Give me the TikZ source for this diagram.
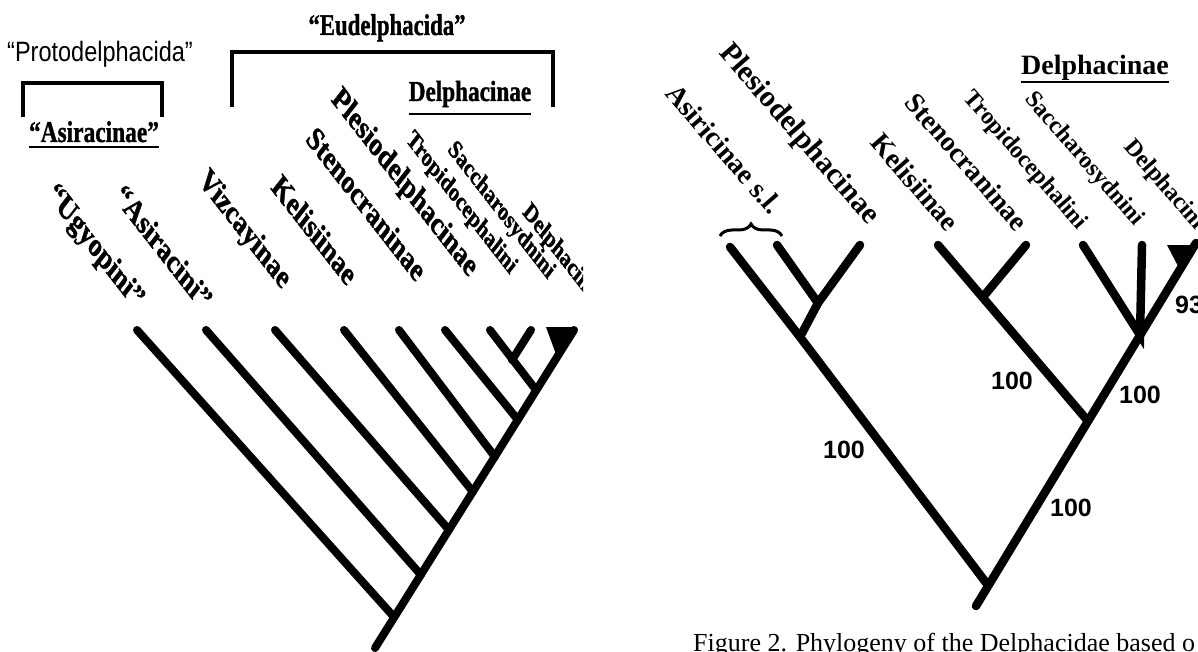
\documentclass[tikz,border=0pt]{standalone}
\usepackage{fontspec}
\setmainfont{Liberation Serif}
\newfontfamily\arialfont{Liberation Sans}
\newfontfamily\heavyfont[FakeBold=1.3]{Liberation Serif Bold}
\usetikzlibrary{decorations.pathreplacing}

\tikzset{
    twig/.style={line width=8pt, line cap=round},
    bracket/.style={line width=3.5pt},
    uline/.style={line width=2.8pt},
    ltaxon/.style={anchor=base east, inner sep=0pt, xscale=0.78, rotate=-45,
        font=\heavyfont\fontsize{33}{33}\selectfont},
    ltaxonsm/.style={ltaxon, font=\heavyfont\fontsize{26}{26}\selectfont},
    rtaxon/.style={anchor=base east, inner sep=0pt, rotate=-49,
        font=\bfseries\fontsize{28}{28}\selectfont},
    rtaxonsm/.style={rtaxon, font=\bfseries\fontsize{24}{24}\selectfont},
    boot/.style={inner sep=0pt, font=\arialfont\bfseries\fontsize{25}{25}\selectfont}
}

\begin{document}
\begin{tikzpicture}[x=1pt, y=-1pt]
    \useasboundingbox (0,0) rectangle (1198,652);
    \clip (0,0) rectangle (1198,652);

    % left: headings
    \node (proto) at (100,62) [anchor=base, inner sep=0pt, xscale=0.84,
        font=\arialfont\fontsize{28}{28}\selectfont] {“Protodelphacida”};
    \draw [bracket] (23,117) -- (23,83) -- (162,83) -- (162,117);
    \node (asir) at (94,142) [anchor=base, inner sep=0pt, xscale=0.78,
        font=\heavyfont\fontsize{30}{30}\selectfont] {“Asiracinae”};
    \draw [uline] ([yshift=-5pt]asir.base west) -- ([yshift=-5pt]asir.base east);
    \node (eudel) at (387,35) [anchor=base, inner sep=0pt, xscale=0.76,
        font=\heavyfont\fontsize{30}{30}\selectfont] {“Eudelphacida”};
    \draw [bracket] (232,107) -- (232,52) -- (553,52) -- (553,107);
    \node (dplL) at (470,101) [anchor=base, inner sep=0pt, xscale=0.8,
        font=\heavyfont\fontsize{29}{29}\selectfont] {Delphacinae};
    \draw [uline] ([yshift=-13pt]dplL.base west) -- ([yshift=-13pt]dplL.base east);

    % left: tree
    \begin{scope}
        \clip (0,0) rectangle (583,652);
        \coordinate (ugy) at (137,330);
        \coordinate (asi) at (206,330);
        \coordinate (viz) at (275,330);
        \coordinate (kel) at (344,330);
        \coordinate (ste) at (399,330);
        \coordinate (ple) at (445,330);
        \coordinate (tro) at (490,330);
        \coordinate (sac) at (531,330);
        \coordinate (del) at (574,330);
        \coordinate (rootL) at (375,648);
        \coordinate (n1) at (394,617);
        \coordinate (n2) at (421,575);
        \coordinate (n3) at (449,530);
        \coordinate (n4) at (473,492);
        \coordinate (n5) at (495,457);
        \coordinate (n6) at (518,420);
        \coordinate (n7) at (536,390);
        \coordinate (n8) at (512,360);
        \fill (546,327) -- (576,327) -- (557,357) -- cycle;
        \draw [twig] (del) -- (rootL);
        \foreach \a/\b in {ugy/n1, asi/n2, viz/n3, kel/n4, ste/n5, ple/n6, tro/n7, sac/n8}
            \draw [twig] (\a) -- (\b);

        \node [ltaxon] (lugy) at (135,310) {“Ugyopini”};
        \node [ltaxon] (lasi) at (202,312) {“Asiracini”};
        \node [ltaxon] (lviz) at (282,290) {Vizcayinae};
        \node [ltaxon] (lkel) at (347,287) {Kelisiinae};
        \node [ltaxon] (lste) at (416,283) {Stenocraninae};
        \node [ltaxon] (lple) at (469,278) {Plesiodelphacinae};
        \node [ltaxonsm] (ltro) at (510,275) {Tropidocephalini};
        \node [ltaxonsm] (lsac) at (548,280) {Saccharosydnini};
        \node [ltaxonsm] (ldel) at (588,298) {Delphacini};
    \end{scope}

    % right: tree
    \coordinate (asA) at (730,247);
    \coordinate (asB) at (777,245);
    \coordinate (pl) at (860,245);
    \coordinate (ke) at (938,245);
    \coordinate (st) at (1026,245);
    \coordinate (tr) at (1083,245);
    \coordinate (sc) at (1142,245);
    \coordinate (dl) at (1196,243);
    \coordinate (m1) at (818,303);
    \coordinate (m2) at (800,337);
    \coordinate (m3) at (983,297);
    \coordinate (m4) at (1087,420);
    \coordinate (m5) at (1140,335);
    \coordinate (rootR) at (987,584);
    \coordinate (tail) at (976,606);
    \fill (1167,245) -- (1196,245) -- (1180,270) -- cycle;
    \draw [twig, line width=8.5pt] (asA) -- (m2) -- (rootR);
    \draw [twig, line width=8.5pt] (asB) -- (m1) -- (pl);
    \draw [twig, line width=8.5pt] (m1) -- (m2);
    \draw [twig, line width=8.5pt] (ke) -- (m4);
    \draw [twig, line width=8.5pt] (st) -- (m3);
    \draw [twig, line width=8.5pt] (tr) -- (m5) -- (sc);
    \draw [twig, line width=8.5pt] (dl) -- (tail);

    \draw [line width=3pt, decorate, decoration={brace, amplitude=12pt}]
        (720,236) -- (782,236);

    \node [rtaxon] (ras) at (770,216) {Asiricinae s.l.};
    \node [rtaxon, font=\bfseries\fontsize{30}{30}\selectfont] (rpl) at (868,226) {Plesiodelphacinae};
    \node [rtaxon] (rke) at (947,233) {Kelisiinae};
    \node [rtaxon] (rst) at (1016,233) {Stenocraninae};
    \node [rtaxonsm] (rtr) at (1078,231) {Tropidocephalini};
    \node [rtaxonsm] (rsc) at (1135,227) {Saccharosydnini};
    \node [rtaxonsm] (rdl) at (1196,231) {Delphacini};

    \node (dplR) at (1095,75) [anchor=base, inner sep=0pt,
        font=\bfseries\fontsize{28}{28}\selectfont] {Delphacinae};
    \draw [uline] ([yshift=-7pt]dplR.base west) -- ([yshift=-7pt]dplR.base east);

    % support values
    \node [boot] (b1) at (844,450) {100};
    \node [boot] (b2) at (1012,381) {100};
    \node [boot] (b3) at (1140,395) {100};
    \node [boot] (b4) at (1071,508) {100};
    \node [boot, anchor=west] (b5) at (1175,305) {93};

    \node [anchor=base west, inner sep=0pt, font=\fontsize{26}{26}\selectfont]
        (cap) at (693,651) {Figure 2. Phylogeny of the Delphacidae based o};
\end{tikzpicture}
\end{document}
